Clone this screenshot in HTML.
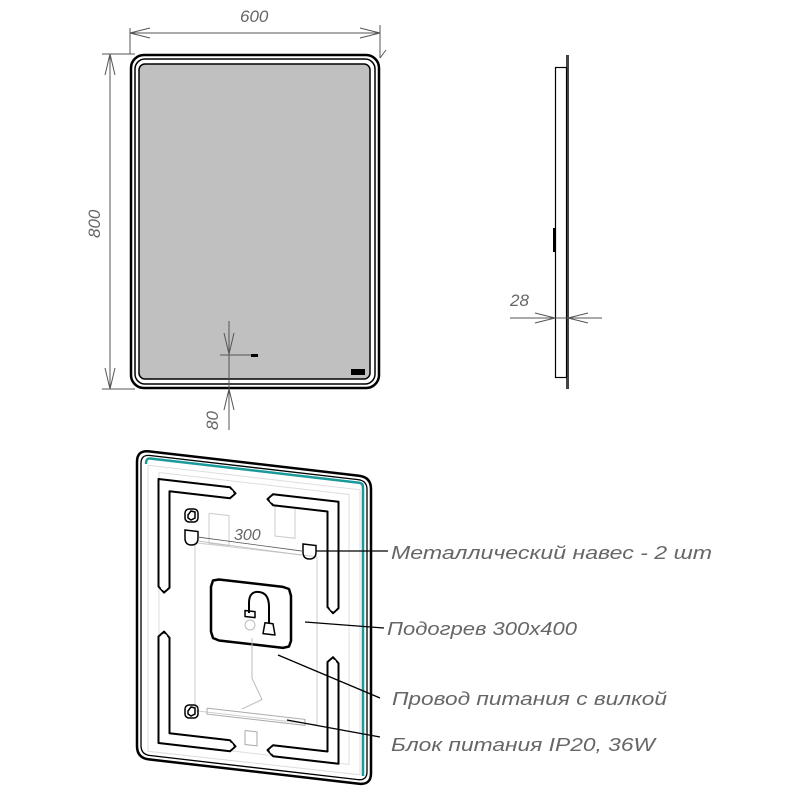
<!DOCTYPE html>
<html><head><meta charset="utf-8"><style>
html,body{margin:0;padding:0;background:#fff}
svg{display:block}
text{font-family:"Liberation Sans",sans-serif;font-style:italic;fill:#666}
.o{fill:none;stroke:#000;stroke-width:2;stroke-linejoin:round;stroke-linecap:round}
.w{fill:none;stroke:#fff;stroke-width:6.5;stroke-linejoin:round;stroke-linecap:round}
</style></head><body>
<svg width="800" height="800" viewBox="0 0 800 800" xmlns="http://www.w3.org/2000/svg">
<!-- FRONT VIEW -->
<g stroke="#555" stroke-width="1" fill="none">
  <line x1="130" y1="28" x2="130" y2="54"/>
  <line x1="380" y1="25" x2="380" y2="58"/>
  <line x1="130" y1="33" x2="380" y2="33"/>
  <path d="M150,28 L130,33 L150,38 M360,28 L380,33 L360,38"/>
  <line x1="380" y1="58" x2="386" y2="50"/>
  <line x1="102" y1="54" x2="135" y2="54"/>
  <line x1="102" y1="389" x2="135" y2="389"/>
  <line x1="110" y1="54" x2="110" y2="389"/>
  <path d="M105,75 L110,54 L115,75 M105,368 L110,389 L115,368"/>
</g>
<text x="240" y="22" font-size="17">600</text>
<text transform="translate(100,238) rotate(-90)" font-size="17">800</text>
<text transform="translate(218,430) rotate(-90)" font-size="17">80</text>
<rect x="131" y="55" width="248" height="333" rx="13" fill="#fff" stroke="#000" stroke-width="2.5"/>
<rect x="135" y="59" width="240" height="325" rx="10" fill="none" stroke="#000" stroke-width="1.5"/>
<rect x="139" y="64" width="231" height="315" rx="6" fill="#c0c0c0" stroke="#000" stroke-width="1.5"/>
<g stroke="#555" stroke-width="1" fill="none">
  <line x1="229" y1="321" x2="229" y2="430"/>
  <path d="M224,333 L229,354 L234,333 M224,410 L229,389 L234,410"/>
  <line x1="220" y1="355" x2="255" y2="355"/>
</g>
<rect x="251" y="354" width="7" height="3" fill="#000"/>
<rect x="351" y="369" width="14" height="6" fill="#000"/>
<!-- SIDE VIEW -->
<rect x="566" y="55" width="3" height="334" fill="#444"/>
<rect x="555.5" y="67.5" width="11" height="310" fill="none" stroke="#000" stroke-width="1.2"/>
<rect x="553" y="228" width="3" height="24" fill="#000"/>
<g stroke="#555" stroke-width="1" fill="none">
  <line x1="510" y1="318" x2="602" y2="318"/>
  <path d="M535,313 L555,318 L535,323 M588,313 L568,318 L588,323"/>
</g>
<text x="510" y="306" font-size="17">28</text>
<!-- BACK VIEW -->
<path d="M149,451.4 L359,475.7 Q371,477.1 371,489.1 L371,773.1 Q371,785.1 359,783.7 L149,759.4 Q137,758 137,746 L137,462 Q137,450 149,451.4 Z" fill="none" stroke="#000" stroke-width="2.5"/>
<path d="M150,455.5 L358,479.6 Q367,480.6 367,489.6 L367,771.6 Q367,780.6 358,779.6 L150,755.5 Q141,754.5 141,745.5 L141,463.5 Q141,454.5 150,455.5 Z" fill="none" stroke="#000" stroke-width="1.3"/>
<path d="M146,464 Q146,458 150,458.5 L359,482.7 Q363,483.2 363,487.2 L363,776" fill="none" stroke="#1a9a9a" stroke-width="2.5"/>
<g fill="none" stroke="#ddd" stroke-width="1">
  <polyline points="148,465.3 360,489.8 360,774.8 148,751.3 148,465.3"/>
  <polyline points="159,472.5 349,494.5 349,764.5 159,742.5 159,472.5"/>
  <polyline points="195,542.7 317,556.8 317,724.8 195,710.7 195,542.7" stroke="#ccc"/>
  <polyline points="209,513.3 229,515.6 229,545.6 209,543.3 209,513.3" stroke="#ccc"/>
  <polyline points="275,506 295,508.3 295,538.3 275,536 275,506" stroke="#ccc"/>
</g>
<!-- slots -->
<polyline class="o" points="230,487.3 158.5,479 158.5,586.5 164,592.6 169.5,587.8 169.5,491.3 230,498.3 235.5,493.4 230,487.3"/>
<polyline class="o" points="273,494.2 338.5,501.8 338.5,608.3 333,613.2 327.5,607 327.5,511.5 273,505.2 267.5,499.1 273,494.2"/>
<polyline class="o" points="164,631.6 169.5,637.8 169.5,733.3 230,740.3 235.5,746.4 230,751.3 158.5,743 158.5,636.5 164,631.6"/>
<polyline class="o" points="333,657.2 338.5,663.3 338.5,763.8 273,756.2 267.5,750.1 273,745.2 327.5,751.5 327.5,662 333,657.2"/>
<polyline class="w" points="230,492.8 164,485.1 164,587.1"/>
<polyline class="w" points="273,499.7 333,506.7 333,607.7"/>
<polyline class="w" points="164,637.1 164,738.1 230,745.8"/>
<polyline class="w" points="333,662.7 333,757.7 273,750.7"/>
<!-- hooks -->
<g fill="none" stroke="#000" stroke-width="1.5">
  <rect x="185" y="509" width="13" height="13" rx="4"/>
  <polygon points="188,515 191,511 195,512 195,518 191,520 188,518"/>
  <path d="M185,530 L198,531.5 L198,538 Q198,545 191.5,545 Q185,545 185,538 Z"/>
  <path d="M303,544 L316,545.5 L316,552 Q316,559 309.5,559 Q303,559 303,552 Z"/>
  <rect x="185" y="705" width="13" height="13" rx="4"/>
  <polygon points="188,711 191,707 195,708 195,714 191,716 188,714"/>
</g>
<line x1="199" y1="537.2" x2="303" y2="551.2" stroke="#555" stroke-width="0.8"/>
<line x1="199" y1="541.2" x2="303" y2="555.2" stroke="#bbb" stroke-width="0.8"/>
<!-- heater plate -->
<polyline class="o" points="219,579.5 283,586.9 289,589 291,595.8 291,640.8 289,646.5 283,647.9 219,640.5 213,638 211,631.6 211,586.6 213,580.5 219,579.5" style="stroke-width:2.5"/>
<polygon points="215,583.5 287,591.8 287,644 215,635.7" fill="#fff" stroke="none"/>
<circle cx="250" cy="625" r="5" fill="none" stroke="#bbb"/>
<path d="M249,613 L249,603 Q249,591 259,592 Q269,593 269,607 L269,623" fill="none" stroke="#000" stroke-width="2"/>
<polyline class="o" points="265,622.8 273,623.7 275,635 263,633.6 265,622.8" style="stroke-width:1.5"/>
<polyline class="o" points="245,610.5 255,611.6 255,617.6 245,616.5 245,610.5" style="stroke-width:1.5"/>
<polyline points="252,638.3 252,678.3 262,699.5 242,709.1" fill="none" stroke="#bbb"/>
<polyline points="207,708.1 305,719.4 305,725.4 207,714.1 207,708.1" fill="none" stroke="#aaa"/>
<polyline points="245,730.5 257,731.9 257,745.9 245,744.5 245,730.5" fill="none" stroke="#aaa"/>
<text x="234" y="540" font-size="16">300</text>
<!-- leaders -->
<g stroke="#000" stroke-width="1.3">
  <line x1="316" y1="551" x2="388" y2="551"/>
  <line x1="305" y1="622" x2="384" y2="628"/>
  <line x1="278" y1="655" x2="380" y2="698"/>
  <line x1="287" y1="720" x2="380" y2="737"/>
</g>
<text x="391" y="559" font-size="18" textLength="321" lengthAdjust="spacingAndGlyphs">Металлический навес - 2 шт</text>
<text x="387" y="635" font-size="18" textLength="190" lengthAdjust="spacingAndGlyphs">Подогрев 300x400</text>
<text x="392" y="705" font-size="18" textLength="275" lengthAdjust="spacingAndGlyphs">Провод питания с вилкой</text>
<text x="391" y="751" font-size="18" textLength="264" lengthAdjust="spacingAndGlyphs">Блок питания IP20, 36W</text>
</svg>
</body></html>
